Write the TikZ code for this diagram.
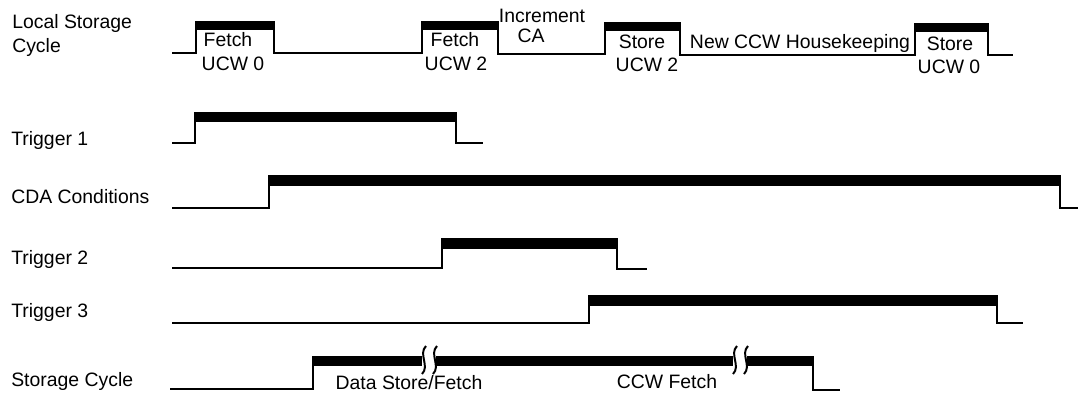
\documentclass[tikz,border=0pt]{standalone}
\usepackage{fontspec}
\setmainfont{Liberation Sans}
\usetikzlibrary{positioning}

\begin{document}
\begin{tikzpicture}[x=0.025cm, y=-0.025cm,
    sig/.style={line width=1.1pt},
    hi/.style={fill=black},
    brk/.style={line width=1.4pt},
    lbl/.style={anchor=base west, inner sep=0pt, font=\fontsize{13.8}{16}\selectfont},
    txt/.style={anchor=base, inner sep=0pt, font=\fontsize{13.8}{16}\selectfont}]
        \useasboundingbox (0,0) rectangle (1078,396);

        % Local Storage Cycle
        \node[lbl] (lsc) at (12,28) {Local Storage};
        \node[lbl] (lscb) at (12,52) {Cycle};
        \draw[sig] (172,53) -- (196,53) -- (196,22) -- (274,22) -- (274,53) -- (422,53) -- (422,22) -- (498,22) -- (498,54)
          -- (605,54) -- (605,23) -- (680,23) -- (680,55) -- (915,55) -- (915,24) -- (988,24) -- (988,55) -- (1013,55);
        \fill[hi] (196,22) rectangle (274,30);
        \fill[hi] (422,22) rectangle (498,30);
        \fill[hi] (605,23) rectangle (680,31);
        \fill[hi] (915,24) rectangle (988,32);
        \node[txt] (f0) at (228,46) {Fetch};
        \node[txt] (u0) at (233,70) {UCW 0};
        \node[txt] (f2) at (455,46) {Fetch};
        \node[txt] (u2) at (456,70) {UCW 2};
        \node[txt] (inc) at (542,22) {Increment};
        \node[txt] (ca) at (531,42) {CA};
        \node[txt] (s2) at (642,48) {Store};
        \node[txt] (su2) at (647,71) {UCW 2};
        \node[txt] (hk) at (800,48) {New CCW Housekeeping};
        \node[txt] (s0) at (950,50) {Store};
        \node[txt] (su0) at (949,73) {UCW 0};

        % Trigger 1
        \node[lbl] (t1) at (11,145) {Trigger 1};
        \draw[sig] (172,143) -- (195,143) -- (195,113) -- (456,113) -- (456,143) -- (483,143);
        \fill[hi] (195,113) rectangle (456,122);

        % CDA Conditions
        \node[lbl] (cda) at (11,203) {CDA Conditions};
        \draw[sig] (172,208) -- (269,208) -- (269,176) -- (1060,176) -- (1060,208) -- (1078,208);
        \fill[hi] (269,176) rectangle (1060,186);

        % Trigger 2
        \node[lbl] (t2) at (11,264) {Trigger 2};
        \draw[sig] (172,268) -- (442,268) -- (442,239) -- (617,239) -- (617,269) -- (647,269);
        \fill[hi] (442,239) rectangle (617,249);

        % Trigger 3
        \node[lbl] (t3) at (11,317) {Trigger 3};
        \draw[sig] (172,323) -- (589,323) -- (589,296) -- (997,296) -- (997,323) -- (1023,323);
        \fill[hi] (589,296) rectangle (997,306);

        % Storage Cycle
        \node[lbl] (sc) at (11,386) {Storage Cycle};
        \draw[sig] (170,389) -- (313,389) -- (313,356);
        \draw[sig] (813,356) -- (813,390) -- (840,390);
        \fill[hi] (313,356) rectangle (422,366);
        \fill[hi] (436,356) rectangle (733,366);
        \fill[hi] (747,356) rectangle (813,366);
        \foreach \bx in {424,435,735,746}
          \draw[brk] (\bx+2,346) .. controls (\bx-6,354) and (\bx+6,366) .. (\bx-2,374);
        \node[txt] (dsf) at (409,389) {Data Store/Fetch};
        \node[txt] (ccw) at (667,388) {CCW Fetch};
      \end{tikzpicture}
\end{document}
